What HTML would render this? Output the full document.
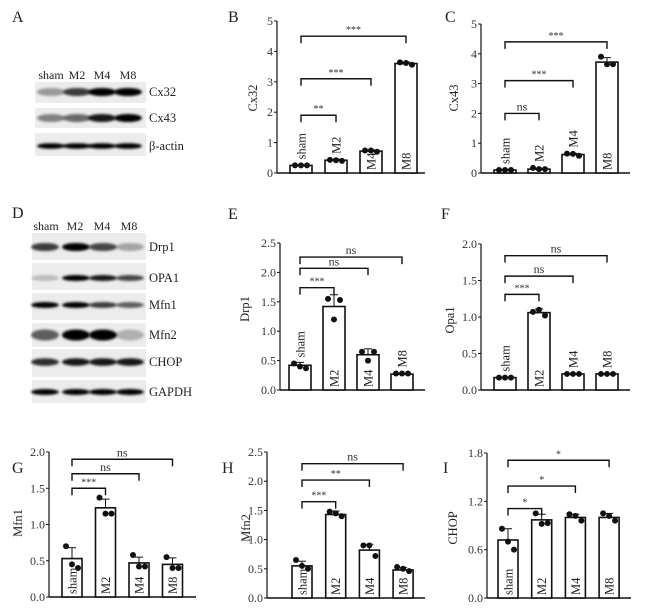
<!DOCTYPE html>
<html><head><meta charset="utf-8">
<style>
html,body{margin:0;padding:0;background:#fff;}
svg{display:block;font-family:"Liberation Serif",serif;}
</style></head>
<body>
<svg id="fig" width="650" height="610" viewBox="0 0 650 610" xmlns="http://www.w3.org/2000/svg">
<defs>
<filter id="blur1" x="-30%" y="-100%" width="160%" height="300%"><feGaussianBlur stdDeviation="1.2"/></filter>
</defs>
</svg>
<script>
// ---------- data ----------
const categories = ['sham','M2','M4','M8'];

const cx32Means = [0.25, 0.42, 0.72, 3.6];
const cx32Sd = [0.02, 0.03, 0.04, 0.05];
const cx32Dots = [[0.25,0.25,0.25],[0.43,0.42,0.4],[0.74,0.74,0.7],[3.64,3.62,3.56]];
const cx32Ticks = [0,1,2,3,4,5];
const cx32Pairs = [[0,1,'**'],[0,2,'***'],[0,3,'***']];
const cx32BracketLevels = [1.9,3.1,4.5];

const cx43Means = [0.1, 0.13, 0.62, 3.72];
const cx43Sd = [0.01, 0.03, 0.04, 0.15];
const cx43Dots = [[0.1,0.1,0.1],[0.17,0.13,0.13],[0.65,0.64,0.58],[3.9,3.65,3.65]];
const cx43Ticks = [0,1,2,3,4,5];
const cx43Pairs = [[0,1,'ns'],[0,2,'***'],[0,3,'***']];
const cx43BracketLevels = [2.0,3.1,4.4];

const drp1Means = [0.42, 1.42, 0.6, 0.27];
const drp1Sd = [0.05, 0.2, 0.1, 0.01];
const drp1Dots = [[0.45,0.4,0.37],[1.55,1.2,1.53],[0.65,0.5,0.65],[0.28,0.28,0.28]];
const drp1Ticks = [0,0.5,1,1.5,2,2.5];
const drp1Pairs = [[0,1,'***'],[0,2,'ns'],[0,3,'ns']];
const drp1BracketLevels = [1.74,2.07,2.26];

const opa1Means = [0.17, 1.06, 0.22, 0.22];
const opa1Sd = [0.005, 0.05, 0.005, 0.005];
const opa1Dots = [[0.17,0.17,0.17],[1.07,1.1,1.02],[0.22,0.22,0.22],[0.22,0.22,0.22]];
const opa1Ticks = [0,0.5,1,1.5,2];
const opa1Pairs = [[0,1,'***'],[0,2,'ns'],[0,3,'ns']];
const opa1BracketLevels = [1.31,1.56,1.84];

const mfn1Means = [0.53, 1.23, 0.47, 0.45];
const mfn1Sd = [0.15, 0.12, 0.08, 0.09];
const mfn1Dots = [[0.7,0.45,0.4],[1.37,1.15,1.15],[0.58,0.42,0.42],[0.55,0.4,0.4]];
const mfn1Ticks = [0,0.5,1,1.5,2];
const mfn1Pairs = [[0,1,'***'],[0,2,'ns'],[0,3,'ns']];
const mfn1BracketLevels = [1.5,1.7,1.9];

const mfn2Means = [0.55, 1.43, 0.82, 0.48];
const mfn2Sd = [0.08, 0.06, 0.1, 0.04];
const mfn2Dots = [[0.65,0.55,0.5],[1.48,1.45,1.4],[0.9,0.9,0.72],[0.53,0.5,0.46]];
const mfn2Ticks = [0,0.5,1,1.5,2,2.5];
const mfn2Pairs = [[0,1,'***'],[0,2,'**'],[0,3,'ns']];
const mfn2BracketLevels = [1.65,2.02,2.3];

const chopMeans = [0.72, 0.97, 1.0, 1.0];
const chopSd = [0.14, 0.07, 0.04, 0.05];
const chopDots = [[0.86,0.7,0.6],[1.05,0.92,0.93],[1.04,1.02,0.96],[1.05,1.02,0.96]];
const chopTicks = [0,0.6,1.2,1.8];
const chopPairs = [[0,1,'*'],[0,2,'*'],[0,3,'*']];
const chopBracketLevels = [1.11,1.39,1.71];

// ---------- drawing helpers ----------
const NS = 'http://www.w3.org/2000/svg';
const svg = document.getElementById('fig');
function mk(tag, attrs, parent, text){
  const e = document.createElementNS(NS, tag);
  for (const k in attrs) e.setAttribute(k, attrs[k]);
  if (text !== undefined) e.textContent = text;
  (parent||svg).appendChild(e);
  return e;
}

function drawChart(key, letter, geo, means, sd, dots, ticks, pairs, levels, title){
  const g = mk('g', {});
  
  
  const yMax = ticks[ticks.length-1];
  const yScale = v => geo.y0 - (v / yMax) * (geo.y0 - geo.yTop);
  const xScale = i => geo.bar0 + i * geo.step;
  const pl = mk('text', {x: geo.lx, y: geo.ly, 'font-size': 16, fill: '#222'}, g, letter);
  
  
  const ya = mk('line', {x1: geo.ax, x2: geo.ax, y1: geo.y0, y2: yScale(yMax), stroke: '#111', 'stroke-width': 1.2}, g);
  
  
  const xa = mk('line', {x1: geo.ax, x2: geo.xEnd, y1: geo.y0, y2: geo.y0, stroke: '#111', 'stroke-width': 1.4}, g);
  
  
  ticks.forEach(t => {
    const y = yScale(t);
    const tk = mk('line', {x1: geo.ax-3, x2: geo.ax, y1: y, y2: y, stroke: '#111', 'stroke-width': 1}, g);
    
    
    const lbl = (ticks.some(v => v % 1 !== 0)) ? t.toFixed(1) : String(t);
    const tl = mk('text', {x: geo.ax-4, y: y+4, 'font-size': 12, 'text-anchor': 'end', fill: '#333'}, g, lbl);
    
    
  });
  const ty = mk('text', {x: 0, y: 0, 'font-size': 12.5, 'text-anchor': 'middle', fill: '#222',
    transform: 'translate(' + geo.tx + ',' + geo.ty + ') rotate(-90)'}, g, title);
  
  
  means.forEach((m, i) => {
    const x = xScale(i), y = yScale(m);
    const bar = mk('rect', {x: x, y: y, width: geo.bw, height: geo.y0 - y, fill: '#fff', stroke: '#111', 'stroke-width': 1.6}, g);
    
    
    const cx = x + geo.bw/2;
    const ye = yScale(m + sd[i]);
    const eb = mk('line', {x1: cx, x2: cx, y1: y, y2: ye, stroke: '#111', 'stroke-width': 1}, g);
    
    
    const ec = mk('line', {x1: cx-4, x2: cx+4, y1: ye, y2: ye, stroke: '#111', 'stroke-width': 1}, g);
    
    
    dots[i].forEach((d, j) => {
      const dt = mk('circle', {cx: cx + (j-1)*6, cy: yScale(d), r: 3, fill: '#111'}, g);
      
      
    });
    const h = geo.y0 - y;
    const fs = geo.catFs || 12.5;
    const need = categories[i].length > 2 ? 30 : 20;
    let base;
    if (h >= need) base = geo.y0 - 3;
    else base = Math.min(y, yScale(Math.max(...dots[i]))) - 6;
    const cl = mk('text', {x: 0, y: 0, 'font-size': fs, fill: '#222',
      transform: 'translate(' + (cx + fs*0.35) + ',' + base + ') rotate(-90)'}, g, categories[i]);
    
    
  });
  pairs.forEach((p, k) => {
    const x1 = xScale(p[0]) + geo.bw/2, x2 = xScale(p[1]) + geo.bw/2;
    const y = yScale(levels[k]);
    const br = mk('path', {d: 'M' + x1 + ' ' + (y+7) + ' V' + y + ' H' + x2 + ' V' + (y+7), fill: 'none', stroke: '#111', 'stroke-width': 1.4}, g);
    
    
    const st = mk('text', {x: (x1+x2)/2, y: y-3, 'font-size': p[2]==='ns' ? 12 : 10, 'text-anchor': 'middle', fill: '#333'}, g, p[2]);
    
    
  });
}

drawChart('cx32','B',{lx:228,ly:22,ax:277,y0:173,yTop:21,bar0:290,step:35,bw:22,xEnd:425,tx:257,ty:98}, cx32Means,cx32Sd,cx32Dots,cx32Ticks,cx32Pairs,cx32BracketLevels,'Cx32');
drawChart('cx43','C',{lx:445,ly:22,ax:481,y0:173,yTop:24,bar0:494,step:34,bw:22,xEnd:630,tx:458,ty:98}, cx43Means,cx43Sd,cx43Dots,cx43Ticks,cx43Pairs,cx43BracketLevels,'Cx43');
drawChart('drp1','E',{lx:228,ly:219,ax:280,y0:390,yTop:243,bar0:289,step:34,bw:22,xEnd:425,tx:249,ty:309}, drp1Means,drp1Sd,drp1Dots,drp1Ticks,drp1Pairs,drp1BracketLevels,'Drp1');
drawChart('opa1','F',{lx:441,ly:219,ax:481,y0:390,yTop:244,bar0:494,step:34,bw:22,xEnd:630,tx:454,ty:320}, opa1Means,opa1Sd,opa1Dots,opa1Ticks,opa1Pairs,opa1BracketLevels,'Opa1');
drawChart('mfn1','G',{lx:12,ly:473,ax:49,y0:597,yTop:452,bar0:62,step:33.5,bw:20,xEnd:196,tx:22,ty:523}, mfn1Means,mfn1Sd,mfn1Dots,mfn1Ticks,mfn1Pairs,mfn1BracketLevels,'Mfn1');
drawChart('mfn2','H',{lx:222,ly:473,ax:267,y0:598,yTop:452,bar0:292,step:33.7,bw:20,xEnd:425,tx:250,ty:528}, mfn2Means,mfn2Sd,mfn2Dots,mfn2Ticks,mfn2Pairs,mfn2BracketLevels,'Mfn2');
drawChart('chop','I',{lx:443,ly:473,ax:487,y0:598,yTop:453,bar0:498,step:33.7,bw:20,xEnd:631,tx:457,ty:528}, chopMeans,chopSd,chopDots,chopTicks,chopPairs,chopBracketLevels,'CHOP');

// ---------- western blots ----------
function blotPanel(name, x0, x1, lanesX, strips, parent){
  strips.forEach(s => {
    const sg = mk('g', {}, parent);
    
    
    mk('rect', {x: x0, y: s.y0, width: x1-x0, height: s.y1-s.y0, fill: '#ececec'}, sg);
    lanesX.forEach((lx, i) => {
      const a = s.int[i];
      mk('ellipse', {cx: lx, cy: s.bc, rx: 14, ry: s.h || 3.2, fill: '#000', opacity: a, filter: 'url(#blur1)'}, sg);
    });
    const t = mk('text', {x: x1+3, y: s.bc+4, 'font-size': 12.5, fill: '#222'}, sg, s.label);
    
    
  });
}
const gA = mk('g', {});


const la = mk('text', {x: 12, y: 22, 'font-size': 16, fill: '#222'}, gA, 'A');


[['sham',51],['M2',77],['M4',102],['M8',128]].forEach(l => {
  const t = mk('text', {x: l[1], y: 79, 'font-size': 12, 'text-anchor': 'middle', fill: '#222'}, gA, l[0]);
  
  
});
blotPanel('a', 35, 146, [51,77,102,128], [
  {label:'Cx32', y0:82, y1:103, bc:92, int:[0.35,0.75,1,1], h:4},
  {label:'Cx43', y0:108, y1:128, bc:118, int:[0.45,0.55,0.9,1], h:4},
  {label:'β-actin', y0:133, y1:156, bc:146, int:[1,1,1,1], h:2.8}
], gA);

const gD = mk('g', {});


const ld = mk('text', {x: 12, y: 218, 'font-size': 16, fill: '#222'}, gD, 'D');


[['sham',46],['M2',75],['M4',102],['M8',129]].forEach(l => {
  const t = mk('text', {x: l[1], y: 230, 'font-size': 12, 'text-anchor': 'middle', fill: '#222'}, gD, l[0]);
  
  
});
blotPanel('d', 32, 146, [45,76,103,130], [
  {label:'Drp1', y0:233, y1:260, bc:247, int:[0.75,1,0.7,0.3], h:4},
  {label:'OPA1', y0:263, y1:290, bc:278, int:[0.2,1,0.9,0.7], h:3},
  {label:'Mfn1', y0:293, y1:320, bc:305, int:[1,1,0.75,0.6], h:3},
  {label:'Mfn2', y0:323, y1:347, bc:335, int:[0.6,1,1,0.25], h:5.5},
  {label:'CHOP', y0:349, y1:377, bc:362, int:[0.8,0.9,0.9,0.9], h:3.8},
  {label:'GAPDH', y0:380, y1:403, bc:392, int:[1,1,1,1], h:3}
], gD);
</script>
</body></html>
